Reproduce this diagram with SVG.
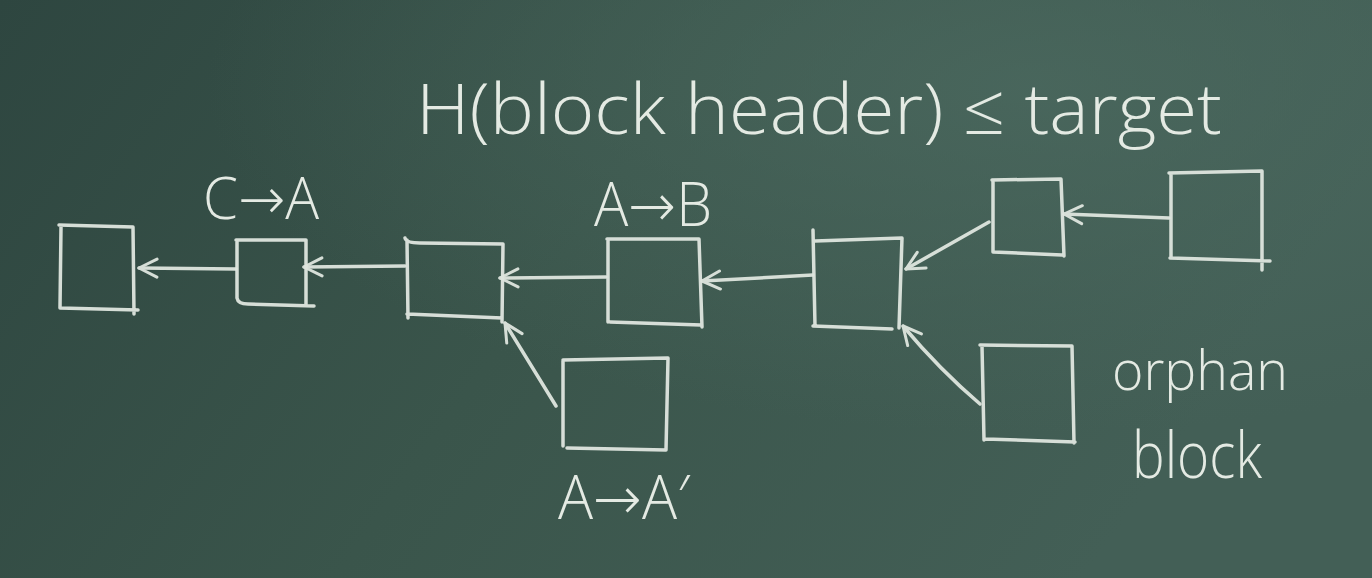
<svg xmlns="http://www.w3.org/2000/svg" width="1372" height="578" viewBox="0 0 1372 578">
<defs>
<linearGradient id="bg" x1="0" y1="0" x2="1" y2="0.3">
<stop offset="0" stop-color="#2e4640"/>
<stop offset="0.5" stop-color="#3a554b"/>
<stop offset="1" stop-color="#435f56"/>
</linearGradient>
<radialGradient id="glow" cx="0.75" cy="0.15" r="0.6">
<stop offset="0" stop-color="#4d6b61" stop-opacity="0.7"/>
<stop offset="1" stop-color="#4d6b61" stop-opacity="0"/>
</radialGradient>
<marker id="ah" viewBox="0 0 24 24" refX="22" refY="12" markerWidth="24" markerHeight="24" markerUnits="userSpaceOnUse" orient="auto">
<path d="M4,3 L22,12 L4,21" fill="none" stroke="#dfe6df" stroke-width="3" stroke-linecap="round" stroke-linejoin="round"/>
</marker>
</defs>
<style>
.chalk{fill:none;stroke:#dfe6df;stroke-width:3.5;stroke-linecap:round;stroke-linejoin:round;opacity:0.95}
.conn{fill:none;stroke:#dfe6df;stroke-width:3.5;stroke-linecap:round;marker-end:url(#ah);opacity:0.95}
.txt{fill:#e4eae3;font-family:"Open Sans","DejaVu Sans",sans-serif;font-weight:300}
</style>
<rect width="1372" height="578" fill="url(#bg)"/>
<rect width="1372" height="578" fill="url(#glow)"/>

<g id="title"><text class="txt" x="416" y="134" font-size="70" textLength="806" lengthAdjust="spacingAndGlyphs">H(block header) ≤ target</text></g>

<g id="b1"><path class="chalk" d="M59,225 L133,227 L134,314 M61,227 L60,308 L138,310"/></g>
<g id="b2"><path class="chalk" d="M236,240 L306,240 L306,304 M237,242 L237,298 M237,298 Q238,304 248,304 L314,306"/></g>
<g id="b3"><path class="chalk" d="M405,238 Q406,243 420,243 L503,244 L502,322 M407,240 L408,318 M407,314 L502,318"/></g>
<g id="b4"><path class="chalk" d="M607,239 L699,239 L702,327 M608,241 L608,322 M610,322 L701,325"/></g>
<g id="b5"><path class="chalk" d="M813,230 L815,326 M815,241 L902,238 L899,328 M813,326 L892,329"/></g>
<g id="b6"><path class="chalk" d="M992,180 L1061,179 L1064,256 M993,181 L993,252 M993,252 L1062,255"/></g>
<g id="b7"><path class="chalk" d="M1169,173 L1262,171 L1262,270 M1171,174 L1171,258 M1170,258 L1270,261"/></g>
<g id="b8"><path class="chalk" d="M563,360 L668,358 L666,450 M563,361 L563,446 M567,448 L666,450"/></g>
<g id="b9"><path class="chalk" d="M980,345 L1072,346 L1074,443 M982,346 L984,440 M985,439 L1075,442"/></g>

<g id="connectors">
<path class="conn" d="M236,269 L139,268"/>
<path class="conn" d="M405,266 L304,267"/>
<path class="conn" d="M606,277 L500,278"/>
<path class="conn" d="M813,275 L702,281"/>
<path class="conn" d="M989,222 L906,269"/>
<path class="conn" d="M1169,218 L1064,214"/>
<path class="conn" d="M556,406 L505,323"/>
<path class="conn" d="M980,404 Q940,370 903,326"/>
</g>

<g id="labels">
<text class="txt" x="203" y="219" font-size="58" textLength="116" lengthAdjust="spacingAndGlyphs">C→A</text>
<text class="txt" x="594" y="226" font-size="60" textLength="118" lengthAdjust="spacingAndGlyphs">A→B</text>
<text class="txt" x="558" y="519" font-size="60" textLength="132" lengthAdjust="spacingAndGlyphs">A→A′</text>
<text class="txt" x="1112" y="390" font-size="56" textLength="176" lengthAdjust="spacingAndGlyphs">orphan</text>
<text class="txt" x="1132" y="478" font-size="64" textLength="130" lengthAdjust="spacingAndGlyphs">block</text>
</g>
</svg>
